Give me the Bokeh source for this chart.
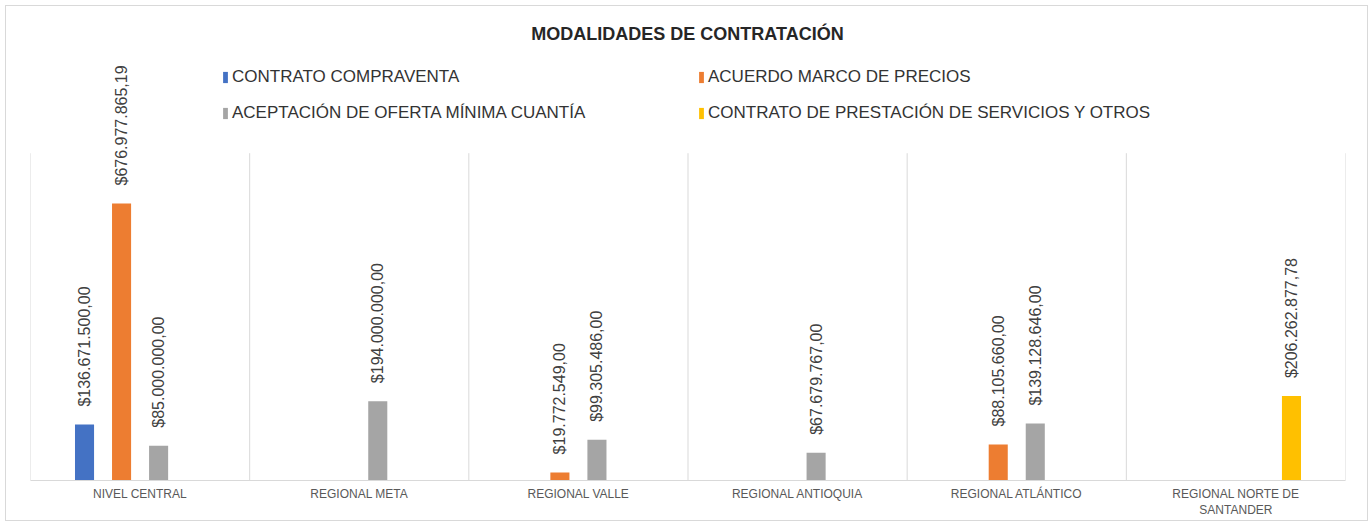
import numpy as np
from bokeh.plotting import figure
from bokeh.models import ColumnDataSource, FixedTicker, Legend, LegendItem, Range1d, Label
from bokeh.core.properties import value
from bokeh.embed import file_html
from bokeh.resources import INLINE

categories = ["NIVEL CENTRAL", "REGIONAL META", "REGIONAL VALLE",
              "REGIONAL ANTIOQUIA", "REGIONAL ATLÁNTICO", "REGIONAL NORTE DE\nSANTANDER"]
series_names = ["CONTRATO COMPRAVENTA", "ACUERDO MARCO DE PRECIOS",
                "ACEPTACIÓN DE OFERTA MÍNIMA CUANTÍA",
                "CONTRATO DE PRESTACIÓN DE SERVICIOS Y OTROS"]
compraventa = [136671500.00, 0, 0, 0, 0, 0]
acuerdo_marco = [676977865.19, 0, 19772549.00, 0, 88105660.00, 0]
aceptacion_oferta = [85000000.00, 194000000.00, 99305486.00, 67679767.00, 139128646.00, 0]
prestacion_servicios = [0, 0, 0, 0, 0, 206262877.78]
colors = ["#4472C4", "#ED7D31", "#A5A5A5", "#FFC000"]
axis_max = 800e6

series = [compraventa, acuerdo_marco, aceptacion_oferta, prestacion_servicios]

def fmt(v):
    s = f"{v:,.2f}"
    s = s.replace(",", "X").replace(".", ",").replace("X", ".")
    return "$" + s

n = len(categories)
centers = np.arange(n) + 0.5
slot = 0.169
offsets = (np.arange(len(series)) - 1.5) * slot
bar_w = 0.087

# frame spans the full height above the axis; the plot area (0..axis_max) is its lower 328 px
frame_h = 475
plot_h = 328
y_top = axis_max * frame_h / plot_h

p = figure(width=1361, height=514, x_range=Range1d(0, n), y_range=Range1d(0, y_top),
           output_backend="svg", toolbar_location=None,
           min_border_left=24, min_border_right=22, min_border_top=0, min_border_bottom=39)
p.styles = {"margin-left": "6px", "margin-top": "6px", "outline": "1px solid #d9d9d9"}
p.outline_line_color = None
p.background_fill_color = "white"
p.border_fill_color = "white"
p.grid.visible = False

bounds = np.arange(n + 1)
p.segment(x0=bounds, y0=np.zeros(n + 1), x1=bounds, y1=np.full(n + 1, axis_max),
          line_color="#d9d9d9", line_width=1)

items = []
for i, (name, vals, col) in enumerate(zip(series_names, series, colors)):
    vals = np.array(vals, dtype=float)
    mask = vals > 0
    src = ColumnDataSource(dict(x=centers[mask] + offsets[i], top=vals[mask],
                                label=[fmt(v) for v in vals[mask]]))
    r = p.vbar(x="x", top="top", width=bar_w, source=src, fill_color=col, line_color=None)
    p.text(x="x", y="top", text="label", source=src, angle=np.pi / 2,
           text_align="left", text_baseline="middle", y_offset=-18,
           text_font=value("Liberation Sans"), text_font_size="16px", text_color="#404040")
    items.append(LegendItem(label=name, renderers=[r]))

# legend fills column by column: order so that rows read left-to-right as in the reference
legend_items = [items[0], items[2], items[1], items[3]]
legend = Legend(items=legend_items, ncols=2, location=(192, 357),
                glyph_width=6, glyph_height=14, label_width=450, label_height=20,
                label_standoff=4, spacing=16, padding=0, margin=0,
                label_text_font="Liberation Sans", label_text_font_size="17px",
                label_text_color="#333333", border_line_color=None,
                background_fill_alpha=0)
p.add_layout(legend, "center")

title = Label(x=657, y=447, x_units="screen", y_units="screen",
              text="MODALIDADES DE CONTRATACIÓN", text_align="center", text_baseline="middle",
              text_font="Liberation Sans", text_font_size="18px", text_font_style="bold",
              text_color="#262626")
p.add_layout(title, "center")

p.yaxis.visible = False
p.xaxis.ticker = FixedTicker(ticks=list(centers))
p.xaxis.major_label_overrides = {float(c): lab for c, lab in zip(centers, categories)}
p.xaxis.major_tick_line_color = None
p.xaxis.minor_tick_line_color = None
p.xaxis.axis_line_color = "#d9d9d9"
p.xaxis.major_label_standoff = 0
p.xaxis.major_label_text_font = "Liberation Sans"
p.xaxis.major_label_text_font_size = "12px"
p.xaxis.major_label_text_color = "#595959"

open("out.html", "w").write(file_html(p, INLINE))
